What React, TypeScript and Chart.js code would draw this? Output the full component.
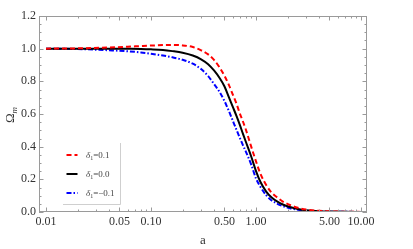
import React, { useEffect, useRef } from 'react';
import { Chart, registerables } from 'chart.js';

Chart.register(...registerables);

const scaleFactorA = [0.01, 0.02, 0.04, 0.06, 0.08, 0.1, 0.13, 0.16, 0.2, 0.25, 0.3, 0.35, 0.4, 0.45, 0.5, 0.55, 0.6, 0.65, 0.7, 0.75, 0.8, 0.9, 1.0, 1.1, 1.25, 1.4, 1.6, 1.8, 2.1, 2.5, 3, 4, 5, 7, 10];
const omegaDeltaPos = [1.0, 1.002, 1.007, 1.012, 1.016, 1.019, 1.022, 1.023, 1.02, 1.01, 0.99, 0.965, 0.93, 0.885, 0.835, 0.78, 0.72, 0.665, 0.605, 0.555, 0.505, 0.4, 0.31, 0.235, 0.165, 0.12, 0.088, 0.064, 0.043, 0.026, 0.015, 0.007, 0.004, 0.0015, 0.0006];
const omegaDeltaZero = [1.0, 1.0, 1.0, 0.999, 0.998, 0.996, 0.992, 0.985, 0.975, 0.958, 0.935, 0.905, 0.865, 0.82, 0.77, 0.705, 0.645, 0.59, 0.535, 0.48, 0.43, 0.34, 0.25, 0.185, 0.125, 0.09, 0.063, 0.046, 0.031, 0.019, 0.011, 0.005, 0.003, 0.001, 0.0005];
const omegaDeltaNeg = [1.0, 0.998, 0.99, 0.984, 0.977, 0.969, 0.958, 0.947, 0.932, 0.908, 0.875, 0.832, 0.782, 0.735, 0.68, 0.62, 0.56, 0.505, 0.455, 0.41, 0.37, 0.29, 0.205, 0.155, 0.103, 0.072, 0.05, 0.036, 0.023, 0.014, 0.008, 0.004, 0.002, 0.001, 0.0004];

const seriesDeltaValues = ['0.1', '0.0', '\u22120.1'];

const xTickValues = [0.01, 0.05, 0.1, 0.5, 1, 5, 10];
const xTickLabels = ['0.01', '0.05', '0.10', '0.50', '1.00', '5.00', '10.00'];
const xMinorTicks = [0.02, 0.03, 0.04, 0.06, 0.07, 0.08, 0.09, 0.2, 0.3, 0.4, 0.6, 0.7, 0.8, 0.9, 2, 3, 4, 6, 7, 8, 9];
const yTickValues = [0, 0.2, 0.4, 0.6, 0.8, 1.0, 1.2];
const yTickLabels = ['0.0', '0.2', '0.4', '0.6', '0.8', '1.0', '1.2'];
const yMinorTicks = [0.05, 0.1, 0.15, 0.25, 0.3, 0.35, 0.45, 0.5, 0.55, 0.65, 0.7, 0.75, 0.85, 0.9, 0.95, 1.05, 1.1, 1.15];

const SERIF = '"Liberation Serif", "DejaVu Serif", serif';
const FRAME = '#9a9a9a';
const TEXT = '#333333';

const framePlugin = {
  id: 'mathematicaFrame',
  afterDraw(chart: any) {
    const { ctx, chartArea, scales } = chart;
    const { left, right, top, bottom } = chartArea;
    const xs = scales.x;
    const ys = scales.y;
    ctx.save();
    ctx.strokeStyle = FRAME;
    ctx.lineWidth = 1;
    ctx.strokeRect(left + 0.5, top + 0.5, right - left - 1, bottom - top - 1);
    const major = 4.5;
    const minor = 2.5;
    ctx.beginPath();
    const xt = (v: number, len: number) => {
      const px = Math.round(xs.getPixelForValue(v)) + 0.5;
      ctx.moveTo(px, bottom);
      ctx.lineTo(px, bottom - len);
      ctx.moveTo(px, top);
      ctx.lineTo(px, top + len);
    };
    const yt = (v: number, len: number) => {
      const py = Math.round(ys.getPixelForValue(v)) + 0.5;
      ctx.moveTo(left, py);
      ctx.lineTo(left + len, py);
      ctx.moveTo(right, py);
      ctx.lineTo(right - len, py);
    };
    xTickValues.forEach((v) => xt(v, major));
    xMinorTicks.forEach((v) => xt(v, minor));
    yTickValues.forEach((v) => yt(v, major));
    yMinorTicks.forEach((v) => yt(v, minor));
    ctx.stroke();

    // axis titles
    ctx.fillStyle = TEXT;
    ctx.font = `13px ${SERIF}`;
    ctx.textAlign = 'center';
    ctx.textBaseline = 'middle';
    ctx.fillText('a', (left + right) / 2, 240.5);

    ctx.save();
    ctx.translate(14, (top + bottom) / 2 + 1);
    ctx.rotate(-Math.PI / 2);
    ctx.textAlign = 'left';
    ctx.textBaseline = 'alphabetic';
    ctx.font = `13px ${SERIF}`;
    const wO = ctx.measureText('\u03A9').width;
    ctx.font = `italic 9px ${SERIF}`;
    const wM = ctx.measureText('m').width;
    const start = -(wO + wM) / 2;
    ctx.font = `13px ${SERIF}`;
    ctx.fillText('\u03A9', start, 0);
    ctx.font = `italic 9px ${SERIF}`;
    ctx.fillText('m', start + wO, 3);
    ctx.restore();

    // legend
    const lx0 = 63;
    const lx1 = 120.5;
    const ly0 = 143;
    const ly1 = 204.5;
    ctx.strokeStyle = '#cfcfcf';
    ctx.lineWidth = 1;
    ctx.beginPath();
    ctx.moveTo(lx1, ly0);
    ctx.lineTo(lx1, ly1);
    ctx.lineTo(lx0, ly1);
    ctx.stroke();

    const rows = [155, 174, 193];
    chart.data.datasets.forEach((ds: any, i: number) => {
      const y = rows[i];
      ctx.save();
      ctx.strokeStyle = ds.borderColor;
      ctx.lineWidth = ds.borderWidth;
      ctx.setLineDash(ds.borderDash || []);
      ctx.beginPath();
      ctx.moveTo(66.5, y);
      ctx.lineTo(77.5, y);
      ctx.stroke();
      ctx.restore();
      ctx.fillStyle = '#444';
      ctx.textAlign = 'left';
      ctx.textBaseline = 'alphabetic';
      let tx = 86;
      const by = y + 3;
      ctx.font = `italic 9px ${SERIF}`;
      ctx.fillText('\u03B4', tx, by);
      tx += ctx.measureText('\u03B4').width;
      ctx.font = `6px ${SERIF}`;
      ctx.fillText('1', tx, by + 1.5);
      tx += ctx.measureText('1').width;
      ctx.font = `9px ${SERIF}`;
      ctx.fillText('=' + seriesDeltaValues[i], tx, by);
    });
    ctx.restore();
  },
};

export default function App() {
  const ref = useRef<HTMLCanvasElement | null>(null);
  useEffect(() => {
    document.body.style.margin = '0';
    document.body.style.background = '#ffffff';
    const canvas = ref.current;
    if (!canvas) return;
    const mk = (vals: number[]) => scaleFactorA.map((a, i) => ({ x: a, y: vals[i] }));
    const chart = new Chart(canvas, {
      type: 'line',
      data: {
        datasets: [
          {
            label: '\u03B41=0.1',
            data: mk(omegaDeltaPos),
            borderColor: '#ff0000',
            borderWidth: 2,
            borderDash: [5, 3],
            pointRadius: 0,
            cubicInterpolationMode: 'monotone',
            fill: false,
          },
          {
            label: '\u03B41=0.0',
            data: mk(omegaDeltaZero),
            borderColor: '#000000',
            borderWidth: 2,
            pointRadius: 0,
            cubicInterpolationMode: 'monotone',
            fill: false,
          },
          {
            label: '\u03B41=\u22120.1',
            data: mk(omegaDeltaNeg),
            borderColor: '#0000ff',
            borderWidth: 2,
            borderDash: [5, 2, 1.5, 2],
            pointRadius: 0,
            cubicInterpolationMode: 'monotone',
            fill: false,
          },
        ],
      },
      options: {
        responsive: false,
        animation: false,
        devicePixelRatio: 1,
        layout: { padding: { top: 16, right: 46, bottom: 0, left: 0 } },
        plugins: { legend: { display: false }, tooltip: { enabled: false } },
        scales: {
          x: {
            type: 'logarithmic',
            min: 0.00858,
            max: 11.4,
            bounds: 'data',
            grid: { display: false, drawTicks: false },
            border: { display: false },
            afterBuildTicks: (scale: any) => {
              scale.ticks = xTickValues.map((v) => ({ value: v }));
            },
            afterFit: (scale: any) => {
              scale.height = 37;
            },
            ticks: {
              autoSkip: false,
              maxRotation: 0,
              padding: 3,
              color: TEXT,
              font: { family: SERIF, size: 12 },
              callback: (_v: any, i: number) => xTickLabels[i],
            },
          },
          y: {
            type: 'linear',
            min: 0,
            max: 1.2,
            grid: { display: false, drawTicks: false },
            border: { display: false },
            afterBuildTicks: (scale: any) => {
              scale.ticks = yTickValues.map((v) => ({ value: v }));
            },
            afterFit: (scale: any) => {
              scale.width = 39;
            },
            ticks: {
              padding: 3,
              color: TEXT,
              font: { family: SERIF, size: 12 },
              callback: (_v: any, i: number) => yTickLabels[i],
            },
          },
        },
      },
      plugins: [framePlugin],
    } as any);
    return () => chart.destroy();
  }, []);
  return (
    <div style={{ width: 413, height: 249, background: '#fff' }}>
      <canvas ref={ref} width={413} height={249} style={{ display: 'block', width: 413, height: 249 }} />
    </div>
  );
}
